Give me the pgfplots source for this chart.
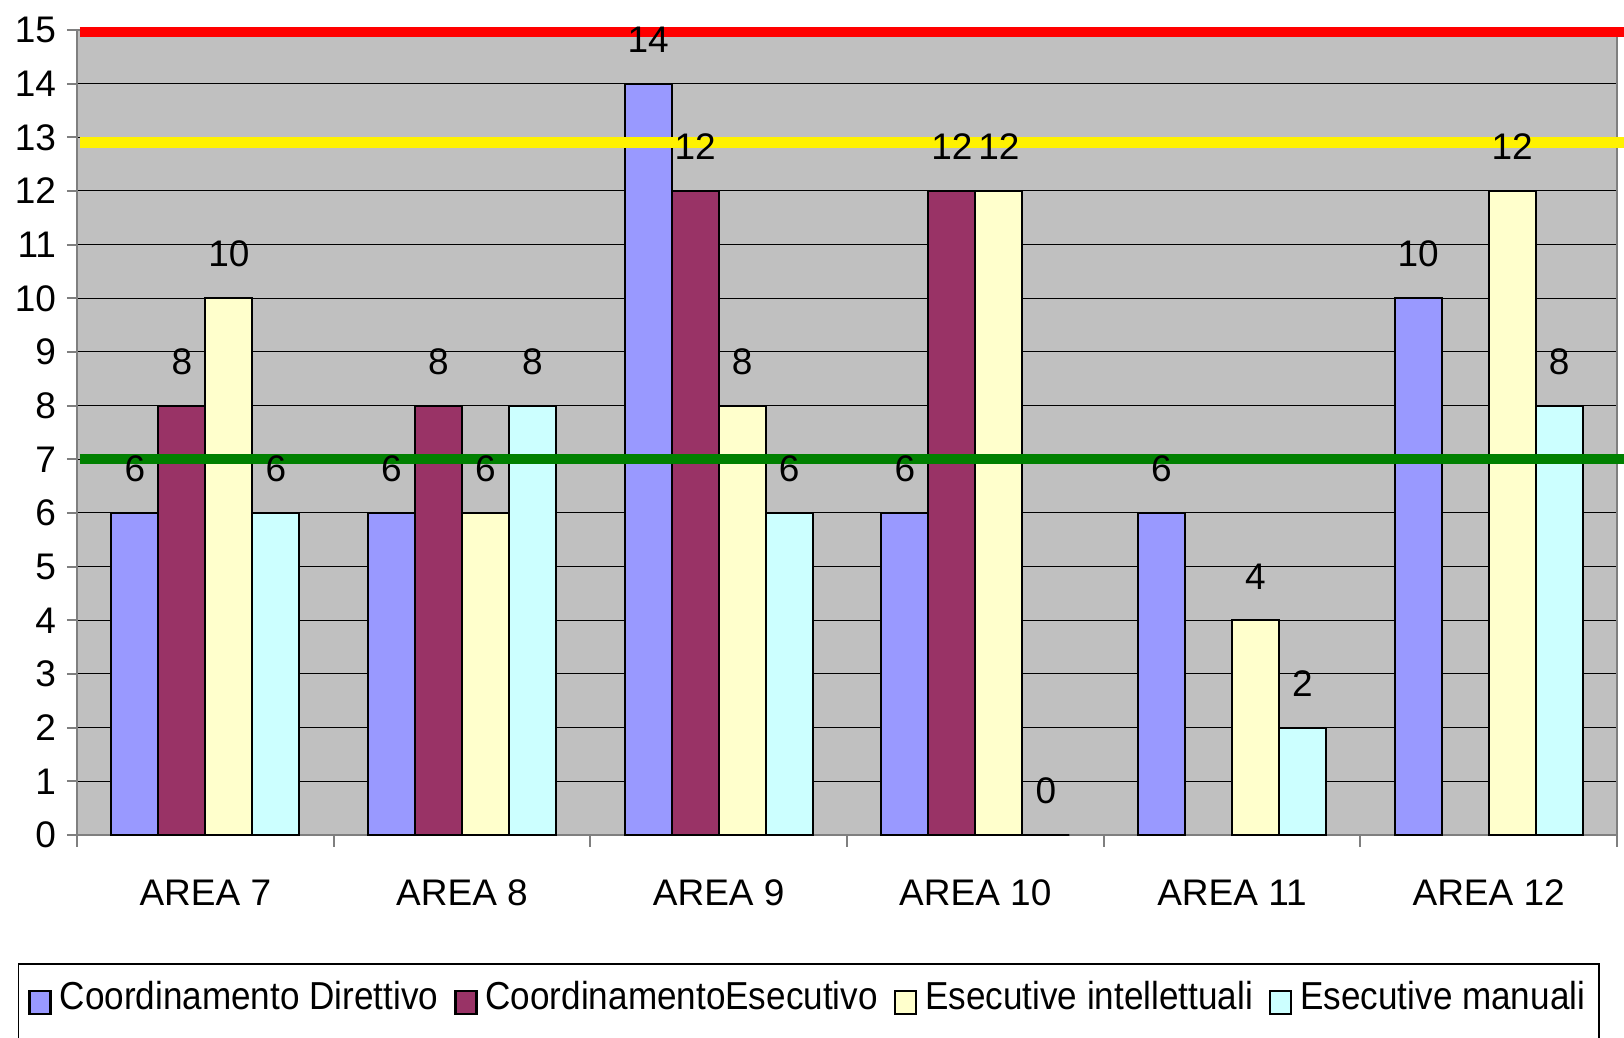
\documentclass[border=0pt]{standalone}
\usepackage{fontspec}
\setmainfont{Liberation Sans}
\newfontfamily\legendfamily[FakeStretch=0.9]{Liberation Sans}
\usepackage{pgfplots}
\pgfplotsset{compat=1.18}

\definecolor{cdir}{HTML}{9999FF}
\definecolor{cese}{HTML}{993366}
\definecolor{eint}{HTML}{FFFFCC}
\definecolor{eman}{HTML}{CCFFFF}
\definecolor{plotbg}{HTML}{C0C0C0}
\definecolor{framegray}{HTML}{7F7F7F}
\definecolor{soglia}{HTML}{008000}

\newcommand{\lblfont}{\fontsize{18.5}{22}\selectfont}

\pgfplotsset{
  barplot/.style={
    fill=#1, draw=black, line width=1pt,
    nodes near coords,
    every node near coord/.append style={
      text=black, font=\lblfont, anchor=south, inner sep=0pt, yshift=15pt},
  },
}

\begin{document}
\begin{tikzpicture}
\begin{axis}[
  scale only axis,
  width=770pt, height=402.5pt,
  xmin=-0.5, xmax=5.5, ymin=0, ymax=15,
  clip=false,
  ybar=0pt, bar width=23.5pt,
  axis background/.style={fill=plotbg},
  axis line style={draw=framegray, line width=1pt},
  ymajorgrids, grid style={black, line width=0.5pt},
  ytick={0,...,15},
  xtick={0,...,5},
  xticklabels={AREA 7, AREA 8, AREA 9, AREA 10, AREA 11, AREA 12},
  minor xtick={-0.5,0.5,...,5.5},
  tick pos=left,
  tick align=outside,
  major tick length=5pt,
  minor tick length=6pt,
  major x tick style={draw=none},
  tick style={draw=framegray, line width=1pt},
  minor tick style={draw=framegray, line width=1pt},
  /pgf/number format/assume math mode=true,
  tick label style={font=\lblfont, text=black},
  yticklabel style={xshift=-2pt},
  xticklabel style={yshift=-14pt},
  legend columns=4,
  legend image code/.code={
    \draw[#1, draw=black, line width=1.2pt] (0pt,-2.5pt) rectangle (10.5pt,9pt);
  },
  legend style={
    at={(axis description cs:-0.0386,-0.159)}, anchor=north west,
    draw=black, line width=0.8pt, fill=white,
    font=\legendfamily\fontsize{19.5}{23}\selectfont,
    inner xsep=5pt, inner ysep=6.5pt,
    cells={anchor=base west},
    nodes={text depth=30pt},
    /tikz/every odd column/.append style={column sep=2pt},
    /tikz/every even column/.append style={column sep=6pt},
  },
]
% Coordinamento Direttivo
\addplot[barplot=cdir] coordinates {(0,6) (1,6) (2,14) (3,6) (4,6) (5,10)};
% Coordinamento Esecutivo (nothing in areas 11 and 12)
\addplot[barplot=cese] coordinates {(0,8) (1,8) (2,12) (3,12)};
% Esecutive intellettuali
\addplot[barplot=eint] coordinates {(0,10) (1,6) (2,8) (3,12) (4,4) (5,12)};
% Esecutive manuali
\addplot[barplot=eman] coordinates {(0,6) (1,8) (2,6) (3,0) (4,2) (5,8)};

\legend{Coordinamento Direttivo, CoordinamentoEsecutivo, Esecutive intellettuali, Esecutive manuali}

% threshold lines
\addplot[sharp plot, draw=red, line width=5pt, forget plot]
  coordinates {(-0.49,14.97) (5.56,14.97)};
\addplot[sharp plot, draw=yellow, line width=5.5pt, forget plot]
  coordinates {(-0.49,12.9) (5.56,12.9)};
\addplot[sharp plot, draw=soglia, line width=5pt, forget plot]
  coordinates {(-0.49,7) (5.56,7)};
\end{axis}
\pgfresetboundingbox
\path[use as bounding box] (-38.5pt,-101.5pt) rectangle (773.5pt,417.5pt);
\end{tikzpicture}
\end{document}
